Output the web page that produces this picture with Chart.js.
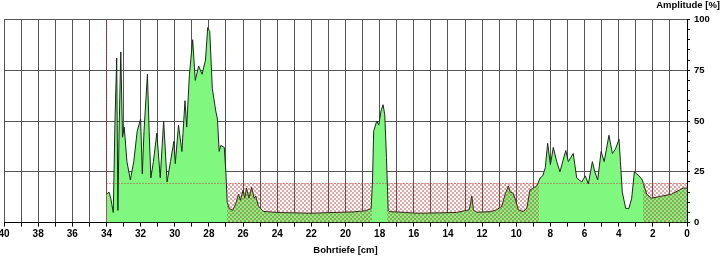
<!DOCTYPE html>
<html>
<head>
<meta charset="utf-8">
<script src="https://cdn.jsdelivr.net/npm/chart.js@4/dist/chart.umd.min.js"></script>
<style>
  html, body { margin: 0; padding: 0; background: #fff; }
  #wrap { width: 720px; height: 257px; }
</style>
</head>
<body>
<div id="wrap"><canvas id="ampChart"></canvas></div>
<script>
//Depth in cm, amplitude in %
const depths = [
    34.0, 33.85, 33.75, 33.6, 33.5, 33.4, 33.33, 33.26, 33.16, 33.06, 32.96, 32.8, 32.6, 32.4, 32.2, 32.0,
    31.9, 31.8, 31.6, 31.5, 31.4, 31.25, 31.05, 30.85, 30.65, 30.45, 30.25, 30.05, 29.97, 29.78, 29.58, 29.4,
    29.3, 29.14, 28.95, 28.8, 28.6, 28.4, 28.2, 28.07, 27.95, 27.8, 27.6, 27.5, 27.4, 27.3, 27.1, 27.0,
    26.93, 26.8, 26.6, 26.4, 26.27, 26.15, 26.0, 25.9, 25.8, 25.65, 25.5, 25.35, 25.25, 25.1, 24.8, 24.0,
    23.0, 22.0, 21.0, 20.2, 19.5, 18.85, 18.5, 18.42, 18.35, 18.17, 18.05, 17.92, 17.8, 17.7, 17.6, 17.5,
    17.4, 16.5, 15.8, 14.5, 13.5, 12.75, 12.6, 12.5, 12.3, 11.5, 11.15, 10.85, 10.65, 10.46, 10.35, 10.2,
    10.07, 9.88, 9.6, 9.38, 9.2, 9.0, 8.8, 8.6, 8.45, 8.3, 8.16, 8.0, 7.83, 7.63, 7.44, 7.1,
    6.95, 6.66, 6.46, 6.17, 5.95, 5.78, 5.54, 5.4, 5.23, 5.03, 4.85, 4.57, 4.37, 4.2, 3.98, 3.9,
    3.79, 3.59, 3.4, 3.24, 3.08, 2.95, 2.81, 2.62, 2.36, 2.07, 1.5, 0.9, 0.22, 0.0
];
const amps = [
    14, 15, 12, 5, 50, 81, 6, 45, 84, 42, 47, 30, 21, 30, 45, 51,
    24, 45, 73, 45, 22, 30, 44, 22, 50, 20, 30, 40, 29, 48, 35, 60,
    47, 73, 90, 70, 77, 73, 80, 96, 94, 66, 55, 51, 35, 38, 37, 24,
    10, 7, 6, 10, 14, 11, 16, 12, 17, 12, 17.5, 12, 13, 8, 5.5, 5,
    4.8, 4.6, 4.9, 5.1, 5.3, 5.8, 6.8, 20, 45, 50, 48, 55, 58, 53, 32, 6,
    5.4, 5, 4.6, 4.8, 5, 6.3, 13, 6, 5.1, 5.4, 6.3, 8, 14, 18, 15, 14.5,
    12, 6.3, 5.4, 7, 16, 17, 18, 22, 23, 27, 39, 28.5, 37, 30, 25, 35.5,
    30, 34, 22, 20, 23, 19, 30, 25, 21, 35, 30, 43, 34, 36, 41, 30,
    15, 7, 7, 12, 25, 24, 23, 21, 14, 12, 13, 14, 17, 17
];

//Limit line and hatched zones
const threshold = 19.5;
const startDepth = 34;
const hatchFrom = [26.93, 17.55, 2.6];
const hatchTo = [18.45, 8.65, 0];

const xTicks = [0, 2, 4, 6, 8, 10, 12, 14, 16, 18, 20, 22, 24, 26, 28, 30, 32, 34, 36, 38, 40];
const yTicks = [0, 25, 50, 75, 100];

document.addEventListener('DOMContentLoaded', function() {
    renderAmpChart();
});

function makeHatch(ctx) {
    const c = document.createElement('canvas');
    c.width = 4;
    c.height = 4;
    const g = c.getContext('2d');
    g.fillStyle = 'rgba(190, 40, 40, 0.42)';
    g.fillRect(0, 0, 2, 2);
    g.fillRect(2, 2, 2, 2);
    return ctx.createPattern(c, 'repeat');
}

const limitPlugin = {
    id: 'limits',
    afterDatasetsDraw(chart) {
        const { ctx, chartArea, scales } = chart;
        const x = scales.x, y = scales.y;
        ctx.save();
        ctx.beginPath();
        ctx.rect(chartArea.left, chartArea.top, chartArea.right - chartArea.left, chartArea.bottom - chartArea.top);
        ctx.clip();

        //hatched zones
        ctx.fillStyle = makeHatch(ctx);
        const yTop = y.getPixelForValue(threshold);
        const y0 = y.getPixelForValue(0);
        for (let i = 0; i < hatchFrom.length; i++) {
            const a = x.getPixelForValue(hatchFrom[i]);
            const b = x.getPixelForValue(hatchTo[i]);
            ctx.fillRect(Math.round(a), Math.round(yTop), Math.round(b - a), Math.round(y0 - yTop));
        }

        //dotted limit lines
        ctx.strokeStyle = 'rgba(200, 50, 50, 0.9)';
        ctx.lineWidth = 1;
        ctx.setLineDash([1, 2]);
        const xs = Math.round(x.getPixelForValue(startDepth)) + 0.5;
        ctx.beginPath();
        ctx.moveTo(xs, chartArea.top);
        ctx.lineTo(xs, chartArea.bottom);
        ctx.stroke();
        const yl = Math.round(yTop) + 0.5;
        ctx.beginPath();
        ctx.moveTo(xs, yl);
        ctx.lineTo(x.getPixelForValue(0), yl);
        ctx.stroke();
        ctx.restore();
    }
};

function renderAmpChart() {
    const ctx = document.getElementById('ampChart').getContext('2d');
    const points = depths.map((d, i) => ({ x: d, y: amps[i] }));

    const data = {
        datasets: [{
            data: points,
            borderColor: '#1a2a1a',
            borderWidth: 1,
            backgroundColor: 'rgb(128, 248, 128)',
            fill: 'origin',
            pointRadius: 0,
            tension: 0
        }]
    };

    const tickFont = { family: 'Arial, "Liberation Sans", sans-serif', size: 10, weight: 'bold' };

    const options = {
        responsive: true,
        maintainAspectRatio: false,
        animation: false,
        layout: {
            autoPadding: false,
            padding: { left: 4, right: 0, top: 0, bottom: 0 }
        },
        scales: {
            x: {
                type: 'linear',
                reverse: true,
                min: 0,
                max: 40,
                afterBuildTicks: s => { s.ticks = Array.from({ length: 41 }, (_, i) => ({ value: i })); },
                ticks: {
                    autoSkip: false,
                    maxRotation: 0,
                    padding: 2,
                    color: '#000',
                    font: tickFont,
                    callback: v => xTicks.includes(v) ? String(v) : ''
                },
                grid: {
                    color: '#555',
                    tickColor: '#000',
                    tickLength: 4
                },
                border: { color: '#000' },
                title: {
                    display: true,
                    text: 'Bohrtiefe [cm]',
                    color: '#000',
                    font: { family: 'Arial, "Liberation Sans", sans-serif', size: 9.5, weight: 'bold' },
                    padding: { top: 2, bottom: 1 }
                }
            },
            y: {
                position: 'right',
                min: 0,
                max: 100,
                afterBuildTicks: s => { s.ticks = Array.from({ length: 21 }, (_, i) => ({ value: i * 5 })); },
                afterFit: s => { s.width = 33; },
                ticks: {
                    autoSkip: false,
                    padding: 4,
                    color: '#000',
                    font: { family: 'Arial, "Liberation Sans", sans-serif', size: 9.5, weight: 'bold' },
                    callback: v => yTicks.includes(v) ? String(v) : ''
                },
                grid: {
                    color: c => (c.tick && c.tick.value % 25 === 0) ? '#555' : 'rgba(0,0,0,0)',
                    tickColor: '#000',
                    tickLength: 3
                },
                border: { color: '#000' }
            }
        },
        plugins: {
            legend: { display: false },
            tooltip: { enabled: false },
            title: {
                display: true,
                text: 'Amplitude [%]',
                align: 'end',
                color: '#000',
                font: { family: 'Arial, "Liberation Sans", sans-serif', size: 9.5, weight: 'bold', lineHeight: 1.2 },
                padding: { top: 0, bottom: 8 }
            }
        }
    };

    new Chart(ctx, {
        type: 'line',
        data: data,
        options: options,
        plugins: [limitPlugin]
    });
}
</script>
</body>
</html>
